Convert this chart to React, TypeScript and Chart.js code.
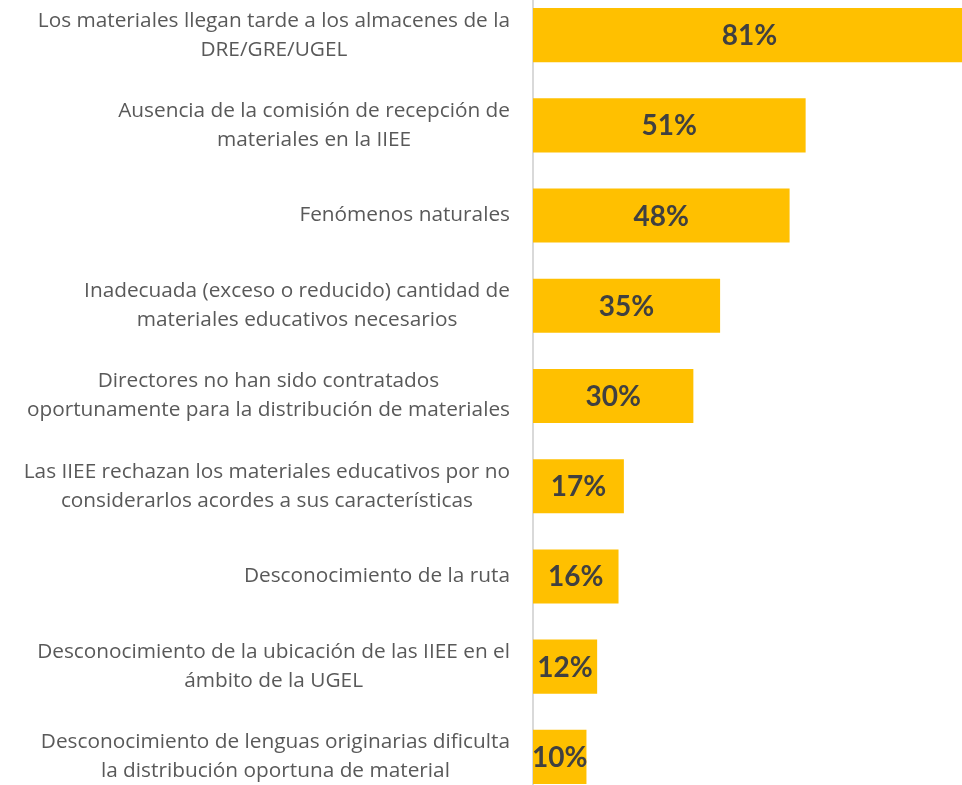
import React, { useEffect, useRef } from "react";
import { Chart, registerables } from "chart.js";

Chart.register(...registerables);

const categories: string[][] = [
  ["Los materiales llegan tarde a los almacenes de la", "DRE/GRE/UGEL"],
  ["Ausencia de la comisión de recepción de", "materiales en la IIEE"],
  ["Fenómenos naturales"],
  ["Inadecuada (exceso o reducido) cantidad de", "materiales educativos necesarios"],
  ["Directores no han sido contratados", "oportunamente para la distribución de materiales"],
  ["Las IIEE rechazan los materiales educativos por no", "considerarlos acordes a sus características"],
  ["Desconocimiento de la ruta"],
  ["Desconocimiento de la ubicación de las IIEE en el", "ámbito de la UGEL"],
  ["Desconocimiento de lenguas originarias dificulta", "la distribución oportuna de material"],
];

const values: number[] = [81, 51, 48, 35, 30, 17, 16, 12, 10];

const BAR_COLOR = "#FFC000";
const LABEL_COLOR = "#595959";
const VALUE_COLOR = "#404040";

const labelPlugin = {
  id: "customLabels",
  afterDatasetsDraw(chart: any) {
    const ctx = chart.ctx;
    const yScale = chart.scales.y;
    const area = chart.chartArea;
    ctx.save();
    // category labels: block right-aligned, lines centred inside block
    ctx.font = "20.8px 'Open Sans'";
    ctx.fillStyle = LABEL_COLOR;
    ctx.textAlign = "center";
    ctx.textBaseline = "middle";
    const right = area.left - 23;
    const lh = 29;
    categories.forEach((lines, i) => {
      const yc = yScale.getPixelForValue(i);
      const w = Math.max(...lines.map((l) => ctx.measureText(l).width));
      const xc = right - w / 2;
      const y0 = yc - ((lines.length - 1) * lh) / 2;
      lines.forEach((l, j) => ctx.fillText(l, xc, y0 + j * lh));
    });
    // value labels
    const meta = chart.getDatasetMeta(0);
    ctx.font = "bold 28px Lato";
    ctx.fillStyle = VALUE_COLOR;
    meta.data.forEach((bar: any, i: number) => {
      const x = (bar.x + bar.base) / 2;
      ctx.fillText(values[i] + "%", x, bar.y + 1);
    });
    ctx.restore();
  },
};

export default function App() {
  const ref = useRef<HTMLCanvasElement | null>(null);
  useEffect(() => {
    if (!ref.current) return;
    const chart = new Chart(ref.current, {
      type: "bar",
      data: {
        labels: categories.map((c) => c.join(" ")),
        datasets: [
          {
            data: values,
            backgroundColor: BAR_COLOR,
            borderWidth: 0,
            categoryPercentage: 1,
            barPercentage: 0.6,
          },
        ],
      },
      options: {
        indexAxis: "y",
        animation: false,
        responsive: false,
        maintainAspectRatio: false,
        layout: { padding: { left: 533, right: 0, top: 0, bottom: 0 } },
        plugins: {
          legend: { display: false },
          tooltip: { enabled: false },
        },
        scales: {
          x: {
            min: 0,
            max: 81,
            display: false,
            grid: { display: false },
          },
          y: {
            ticks: { display: false },
            grid: { display: false, drawTicks: false },
            border: { display: true, color: "#D9D9D9", width: 2 },
          },
        },
      },
      plugins: [labelPlugin],
    });
    return () => chart.destroy();
  }, []);
  return (
    <div style={{ position: "absolute", left: 0, top: -10, width: 966, height: 812 }}>
      <canvas ref={ref} width={966} height={812} style={{ display: "block" }} />
    </div>
  );
}
